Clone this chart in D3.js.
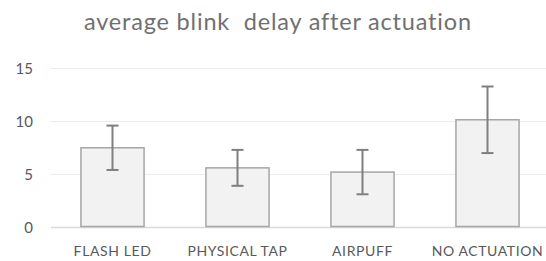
<!DOCTYPE html>
<html>
<head>
<meta charset="utf-8">
<script src="https://cdn.jsdelivr.net/npm/d3@7"></script>
<style>
  body { margin: 0; background: #fff; }
  text { font-family: Lato, "Open Sans", sans-serif; fill: #595959; font-variant-ligatures: none; }
</style>
</head>
<body>
<div id="chart"></div>
<script>
var categories = ['FLASH LED', 'PHYSICAL TAP', 'AIRPUFF', 'NO ACTUATION'];
var means = [7.45, 5.55, 5.15, 10.1];
var errors = [2.1, 1.7, 2.1, 3.15];
var yTicks = [0, 5, 10, 15];

var width = 546,
    height = 261;

var svg = d3.select('#chart')
  .append('svg')
  .attr('width', width)
  .attr('height', height);

var x = d3.scaleBand()
  .domain(categories)
  .range([50, 550])
  .paddingInner(0.495)
  .paddingOuter(0.2475);

var y = d3.scaleLinear()
  .domain([0, 15])
  .range([226.5, 68]);

// title
svg.append('text')
  .attr('x', 277.5)
  .attr('y', 30)
  .attr('text-anchor', 'middle')
  .attr('textLength', 387)
  .attr('lengthAdjust', 'spacing')
  .attr('xml:space', 'preserve')
  .style('font-size', '23.5px')
  .style('fill', '#707070')
  .text('average blink  delay after actuation');

// gridlines
svg.append('g')
  .selectAll('line')
  .data(yTicks)
  .enter()
  .append('line')
  .attr('x1', 51)
  .attr('x2', width)
  .attr('y1', function(d) { return Math.round(y(d)) + 0.5; })
  .attr('y2', function(d) { return Math.round(y(d)) + 0.5; })
  .attr('stroke', function(d) { return d === 0 ? '#d9d9d9' : '#ececec'; })
  .attr('stroke-width', function(d) { return d === 0 ? 1.5 : 1; });

// y tick labels
svg.append('g')
  .selectAll('text')
  .data(yTicks)
  .enter()
  .append('text')
  .attr('x', 33)
  .attr('y', function(d) { return y(d) + 1; })
  .attr('dy', '0.35em')
  .attr('text-anchor', 'end')
  .style('font-size', '15px')
  .text(function(d) { return d; });

// bars
svg.append('g')
  .selectAll('rect')
  .data(categories)
  .enter()
  .append('rect')
  .attr('x', function(d) { return x(d); })
  .attr('width', x.bandwidth())
  .attr('y', function(d, i) { return y(means[i]); })
  .attr('height', function(d, i) { return y(0) - y(means[i]); })
  .attr('fill', '#f2f2f2')
  .attr('stroke', '#a6a6a6')
  .attr('stroke-width', 1.5);

// error bars
var eb = svg.append('g')
  .selectAll('g')
  .data(categories)
  .enter()
  .append('g')
  .attr('stroke', '#7f7f7f')
  .attr('stroke-width', 2);

eb.append('line')
  .attr('x1', function(d) { return x(d) + x.bandwidth() / 2; })
  .attr('x2', function(d) { return x(d) + x.bandwidth() / 2; })
  .attr('y1', function(d, i) { return y(means[i] + errors[i]); })
  .attr('y2', function(d, i) { return y(means[i] - errors[i]); });

eb.selectAll('.cap')
  .data(function(d, i) { return [[d, means[i] + errors[i]], [d, means[i] - errors[i]]]; })
  .enter()
  .append('line')
  .attr('class', 'cap')
  .attr('x1', function(p) { return x(p[0]) + x.bandwidth() / 2 - 6; })
  .attr('x2', function(p) { return x(p[0]) + x.bandwidth() / 2 + 6; })
  .attr('y1', function(p) { return y(p[1]); })
  .attr('y2', function(p) { return y(p[1]); });

// category labels
svg.append('g')
  .selectAll('text')
  .data(categories)
  .enter()
  .append('text')
  .attr('x', function(d) { return x(d) + x.bandwidth() / 2; })
  .attr('y', 251)
  .attr('dy', '0.35em')
  .attr('text-anchor', 'middle')
  .style('font-size', '14px')
  .style('letter-spacing', '0.6px')
  .text(function(d) { return d; });
</script>
</body>
</html>
